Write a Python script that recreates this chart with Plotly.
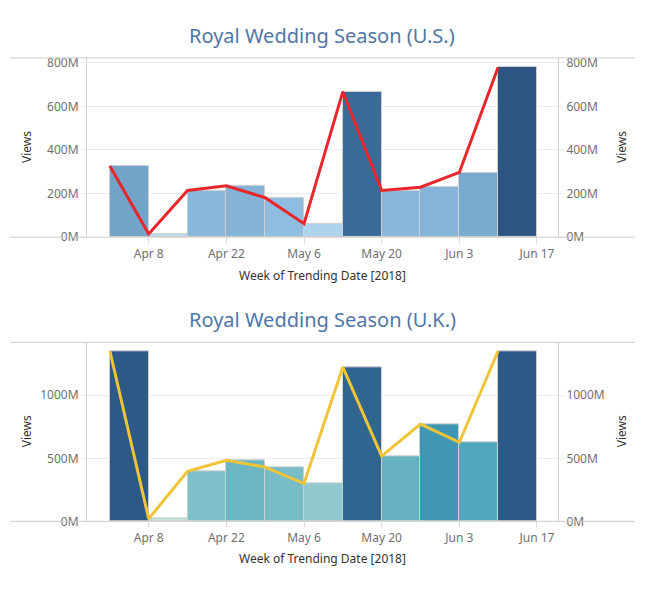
import plotly.graph_objects as go

# ---- data ----
weeks = ["2018-04-01", "2018-04-08", "2018-04-15", "2018-04-22", "2018-04-29",
         "2018-05-06", "2018-05-13", "2018-05-20", "2018-05-27", "2018-06-03",
         "2018-06-10"]
us_views = [326e6, 15e6, 214e6, 236e6, 181e6, 62e6, 667e6, 214e6, 229e6, 297e6, 779e6]
uk_views = [1351e6, 20e6, 397e6, 485e6, 430e6, 300e6, 1224e6, 518e6, 772e6, 627e6, 1351e6]
tick_dates = ["2018-04-08", "2018-04-22", "2018-05-06", "2018-05-20", "2018-06-03", "2018-06-17"]
tick_labels = ["Apr 8", "Apr 22", "May 6", "May 20", "Jun 3", "Jun 17"]
us_ticks = [0, 200e6, 400e6, 600e6, 800e6]
us_tick_labels = ["0M", "200M", "400M", "600M", "800M"]
uk_ticks = [0, 500e6, 1000e6]
uk_tick_labels = ["0M", "500M", "1000M"]
title_us = "Royal Wedding Season (U.S.)"
title_uk = "Royal Wedding Season (U.K.)"
x_title = "Week of Trending Date [2018]"
y_title = "Views"

WEEK_MS = 7 * 24 * 3600 * 1000
FONT = "Noto Sans"
W, H = 649, 595

us_scale = [[0, "#b9daef"], [0.06, "#acd4ed"], [0.22, "#8fbde0"], [0.29, "#84b3d7"],
            [0.4, "#73a5cb"], [0.85, "#3a6a97"], [1, "#2c5681"]]
uk_scale = [[0, "#bfe3d6"], [0.21, "#8fc9cf"], [0.28, "#7fc0c9"], [0.35, "#6cb6c3"],
            [0.46, "#51a6bd"], [0.565, "#3f97b3"], [0.9, "#2f6690"], [1, "#2c5985"]]

fig = go.Figure()

def add_panel(vals, scale, line_color, xa, ya_left, ya_right):
    fig.add_trace(go.Bar(
        x=weeks, y=vals, width=[WEEK_MS] * len(weeks), offset=0,
        marker=dict(color=vals, colorscale=scale, cmin=min(vals), cmax=max(vals),
                    line=dict(color="#cfcfcf", width=1)),
        xaxis=xa, yaxis=ya_left, hoverinfo="skip", showlegend=False))
    fig.add_trace(go.Scatter(
        x=weeks, y=vals, mode="lines", line=dict(color=line_color, width=3),
        xaxis=xa, yaxis=ya_right, hoverinfo="skip", showlegend=False))

add_panel(us_views, us_scale, "#e8262b", "x", "y", "y2")
add_panel(uk_views, uk_scale, "#efc537", "x2", "y3", "y4")

xdom = [87 / W, 558 / W]
us_dom = [(H - 238) / H, (H - 55) / H]
uk_dom = [(H - 528) / H, (H - 345.3) / H]
xrange = ["2018-03-27 21:00", "2018-06-20 19:00"]

tickfont = dict(family=FONT, size=12, color="#707070")
xcommon = dict(type="date", range=xrange, domain=xdom, tickvals=tick_dates, ticktext=tick_labels,
               tickfont=tickfont, ticks="outside", ticklen=5, tickcolor="#d9d9d9",
               showgrid=False, showline=False, zeroline=False, fixedrange=True)
fig.update_layout(
    xaxis=dict(anchor="y", **xcommon),
    xaxis2=dict(anchor="y3", **xcommon),
)

def yaxes(ticks, labels, rng, dom, anchor):
    left = dict(domain=dom, range=rng, tickvals=ticks, ticktext=labels, tickfont=tickfont,
                anchor=anchor, showgrid=True, gridcolor="#ececec", gridwidth=1,
                ticks="outside", ticklen=5, tickcolor="#ececec",
                showline=True, linecolor="#d0d0d0", linewidth=1, zeroline=False, fixedrange=True)
    right = dict(domain=dom, range=rng, tickvals=ticks, ticktext=labels, tickfont=tickfont,
                 anchor=anchor, side="right", showgrid=False,
                 ticks="outside", ticklen=5, tickcolor="#ececec",
                 showline=True, linecolor="#d0d0d0", linewidth=1, zeroline=False, fixedrange=True)
    return left, right

yl, yr = yaxes(us_ticks, us_tick_labels, [0, 822e6], us_dom, "x")
yr["overlaying"] = "y"
yl3, yr4 = yaxes(uk_ticks, uk_tick_labels, [0, 1420e6], uk_dom, "x2")
yr4["overlaying"] = "y3"
fig.update_layout(yaxis=yl, yaxis2=yr, yaxis3=yl3, yaxis4=yr4)

# frame lines spanning full width
for ypix in [55, 238, 345.3, 528]:
    fig.add_shape(type="line", xref="paper", yref="paper", x0=10 / W, x1=635 / W,
                  y0=(H - ypix) / H, y1=(H - ypix) / H, line=dict(color="#cccccc", width=1))

ann = []
for text, ypix in [(title_us, 32), (title_uk, 322)]:
    ann.append(dict(text=text, x=322 / W, y=(H - ypix) / H, xref="paper", yref="paper",
                    showarrow=False, xanchor="center", yanchor="middle",
                    font=dict(family=FONT, size=20, color="#4f76a6")))
for ypix in [277, 566]:
    ann.append(dict(text=x_title, x=322.5 / W, y=(H - ypix) / H, xref="paper", yref="paper",
                    showarrow=False, xanchor="center", yanchor="middle",
                    font=dict(family=FONT, size=12, color="#333333")))
for ypix in [146, 436]:
    for xpix in [26, 621]:
        ann.append(dict(text=y_title, x=xpix / W, y=(H - ypix) / H, xref="paper", yref="paper",
                        showarrow=False, xanchor="center", yanchor="middle", textangle=-90,
                        font=dict(family=FONT, size=12, color="#333333")))

fig.update_layout(
    width=W, height=H, margin=dict(l=0, r=0, t=0, b=0),
    paper_bgcolor="white", plot_bgcolor="white",
    bargap=0, annotations=ann, showlegend=False,
)

fig.write_html("out.html", config={"displayModeBar": False},
               post_script="document.body.style.margin='0';")
